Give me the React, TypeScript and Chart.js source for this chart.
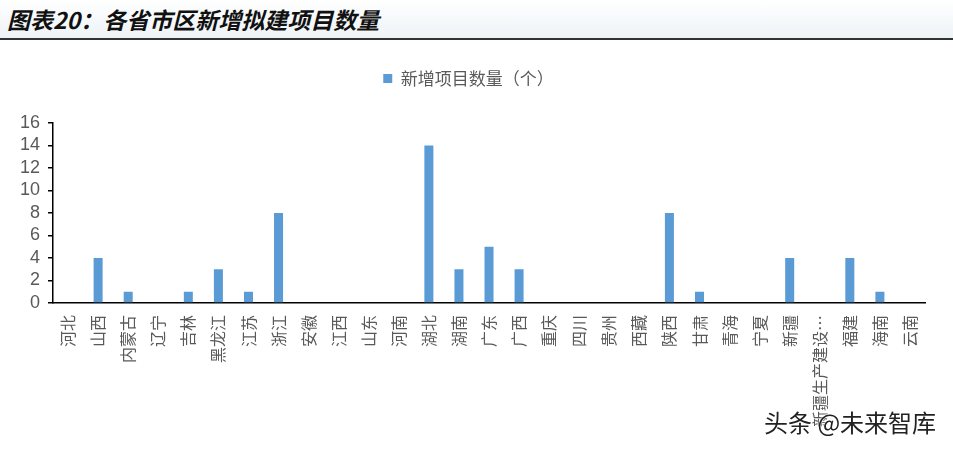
import React, { useEffect, useRef } from "react";
import { Chart, registerables } from "chart.js";

Chart.register(...registerables);

const categories = [
  "河北", "山西", "内蒙古", "辽宁", "吉林", "黑龙江", "江苏", "浙江", "安徽", "江西",
  "山东", "河南", "湖北", "湖南", "广东", "广西", "重庆", "四川", "贵州", "西藏",
  "陕西", "甘肃", "青海", "宁夏", "新疆", "新疆生产建设…", "福建", "海南", "云南",
];
const newProjects = [
  0, 4, 1, 0, 1, 3, 1, 8, 0, 0,
  0, 0, 14, 3, 5, 3, 0, 0, 0, 0,
  8, 1, 0, 0, 4, 0, 4, 1, 0,
];
const seriesName = "新增项目数量（个）";
const titleText = "图表20：各省市区新增拟建项目数量";
const watermark = "头条 @未来智库";

const legendSpacer = {
  id: "legendSpacer",
  beforeInit(chart: any) {
    const legend = chart.legend;
    if (!legend) return;
    const origFit = legend.fit;
    legend.fit = function () {
      origFit.call(this);
      this.height += 26;
    };
  },
};

export default function App() {
  const ref = useRef<HTMLCanvasElement | null>(null);
  useEffect(() => {
    document.body.style.margin = "0";
    const ctx = ref.current!;
    const chart = new Chart(ctx, {
      type: "bar",
      data: {
        labels: categories,
        datasets: [
          {
            label: seriesName,
            data: newProjects,
            backgroundColor: "#5B9BD5",
            barPercentage: 0.3,
            categoryPercentage: 1,
          },
        ],
      },
      plugins: [legendSpacer],
      options: {
        animation: false,
        responsive: false,
        layout: { padding: { left: 12, right: 28, top: 2, bottom: 10 } },
        plugins: {
          legend: {
            position: "top",
            labels: {
              boxWidth: 9,
              boxHeight: 9,
              color: "#595959",
              font: { family: "'Noto Sans CJK SC'", size: 17 },
              padding: 24,
            },
          },
          tooltip: { enabled: false },
        },
        scales: {
          x: {
            grid: { display: true, drawOnChartArea: false, drawTicks: false },
            border: { display: true, color: "#000", width: 1.5 },
            ticks: {
              color: "#595959",
              font: { family: "'Noto Sans CJK SC'", size: 16 },
              maxRotation: 90,
              minRotation: 90,
              autoSkip: false,
              padding: 12,
            },
          },
          y: {
            min: 0,
            max: 16,
            grid: { display: true, drawOnChartArea: false, drawTicks: true, tickLength: 5, color: "#000", lineWidth: 1.5 },
            border: { display: true, color: "#000", width: 1.5 },
            ticks: {
              stepSize: 2,
              autoSkip: false,
              color: "#595959",
              font: { family: "Arial, 'Liberation Sans'", size: 18 },
              padding: 8,
            },
          },
        },
      },
    });
    return () => chart.destroy();
  }, []);

  return (
    <div style={{ position: "relative", width: 953, height: 449, background: "#fff", overflow: "hidden" }}>
      <div
        style={{
          position: "absolute",
          left: 0,
          top: 0,
          width: 953,
          height: 38,
          background: "linear-gradient(#ffffff, #eef3f6)",
        }}
      />
      <div
        style={{
          position: "absolute",
          left: 7,
          top: 4,
          fontFamily: "'Noto Sans CJK SC'",
          fontWeight: 700,
          fontStyle: "italic",
          fontSize: 23,
          color: "#111",
          whiteSpace: "nowrap",
          lineHeight: "30px",
        }}
      >
        {titleText}
      </div>
      <div style={{ position: "absolute", left: 0, top: 38, width: 953, height: 2, background: "#333" }} />
      <canvas ref={ref} width={953} height={405} style={{ position: "absolute", left: 0, top: 44 }} />
      <div
        style={{
          position: "absolute",
          left: 764,
          top: 404,
          fontFamily: "'Noto Sans CJK SC'",
          fontSize: 24,
          color: "#222",
          whiteSpace: "nowrap",
          textShadow: "0 0 2px #fff, 0 0 2px #fff",
        }}
      >
        {watermark}
      </div>
    </div>
  );
}
